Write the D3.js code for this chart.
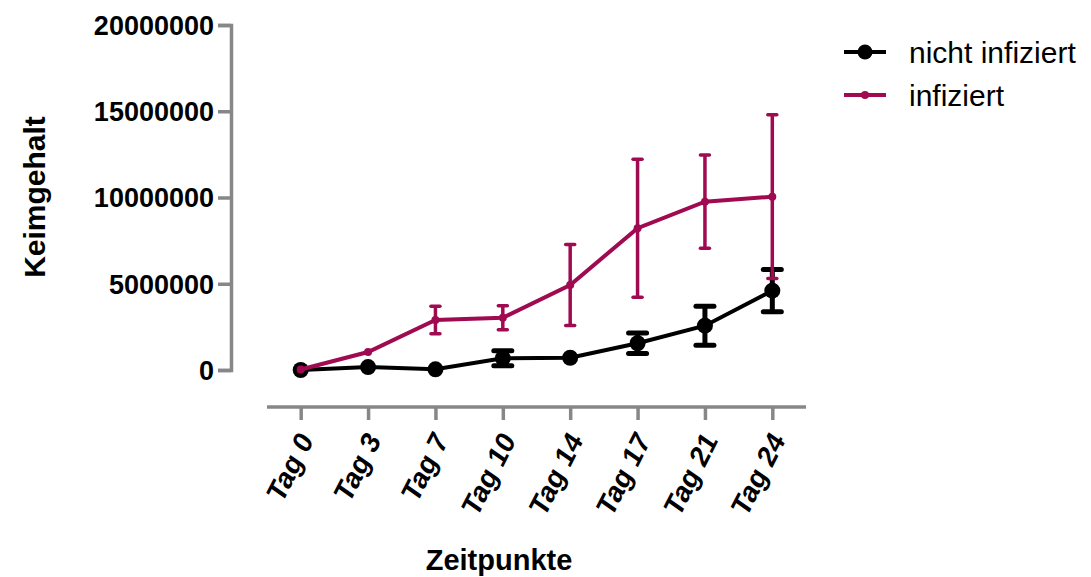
<!DOCTYPE html>
<html><head><meta charset="utf-8">
<script src="https://cdn.jsdelivr.net/npm/d3@7"></script>
<style>
body{margin:0;background:#fff;}
svg text{font-family:"Liberation Sans",Arial,sans-serif;}
</style></head>
<body><svg id="c" width="1091" height="577"></svg>
<script>
const categories = ["Tag 0","Tag 3","Tag 7","Tag 10","Tag 14","Tag 17","Tag 21","Tag 24"];
const nichtMean = [0, 170000, 40000, 680000, 710000, 1550000, 2570000, 4600000];
const nichtErr  = [0, 0, 0, 430000, 0, 600000, 1130000, 1230000];
const infMean   = [30000, 1040000, 2900000, 3030000, 4930000, 8220000, 9760000, 10050000];
const infErr    = [0, 0, 800000, 700000, 2350000, 4000000, 2700000, 4750000];
const yTicks = [0, 5000000, 10000000, 15000000, 20000000];
const seriesNames = ["nicht infiziert", "infiziert"];

const svg = d3.select("#c");
const axisColor = "#878787";
const red = "#A00A50";

const x = d3.scalePoint().domain(categories).range([267, 806]).padding(0.5);
const y = d3.scaleLinear().domain([0, 20000000]).range([370, 25]);

// Y axis
const yAx = svg.append("g").attr("transform","translate(231,0)")
  .call(d3.axisLeft(y).tickValues(yTicks).tickFormat(d3.format("d")).tickSizeOuter(0).tickSize(13).tickPadding(4));
yAx.select(".domain").attr("stroke",axisColor).attr("stroke-width",3.5);
yAx.selectAll(".tick line").attr("stroke",axisColor).attr("stroke-width",3.5);
yAx.selectAll(".tick text").attr("font-size",27).attr("font-weight","bold").attr("fill","#000").attr("dy","0.35em");

// X axis
const xAx = svg.append("g").attr("transform","translate(0,407)")
  .call(d3.axisBottom(x).tickSizeOuter(0).tickSize(13));
xAx.select(".domain").attr("stroke",axisColor).attr("stroke-width",3.5).attr("d","M267,0H806");
xAx.selectAll(".tick line").attr("stroke",axisColor).attr("stroke-width",3.5);
xAx.selectAll(".tick text").attr("font-size",28).attr("font-weight","bold").attr("fill","#000")
  .attr("text-anchor","end").attr("dy",0).attr("y",0)
  .attr("transform","translate(13,34) rotate(-63) skewX(-8)");

// titles
svg.append("text").attr("x",499).attr("y",570).attr("text-anchor","middle")
  .attr("font-size",29).attr("font-weight","bold").text("Zeitpunkte");
svg.append("text").attr("transform","translate(45,197) rotate(-90)").attr("text-anchor","middle")
  .attr("font-size",30).attr("font-weight","bold").text("Keimgehalt");

function drawSeries(means, errs, color, lw, r, ebw, capw) {
  const g = svg.append("g");
  const pts = categories.map((c,i)=>({c, m:means[i], e:errs[i]}));
  const line = d3.line().x(d=>x(d.c)).y(d=>y(d.m));
  g.append("path").datum(pts).attr("d",line).attr("fill","none").attr("stroke",color).attr("stroke-width",lw);
  const eb = g.selectAll(".eb").data(pts.filter(d=>d.e>0)).join("g");
  eb.append("line").attr("x1",d=>x(d.c)).attr("x2",d=>x(d.c)).attr("y1",d=>y(d.m+d.e)).attr("y2",d=>y(d.m-d.e))
    .attr("stroke",color).attr("stroke-width",ebw);
  eb.append("line").attr("x1",d=>x(d.c)-capw/2).attr("x2",d=>x(d.c)+capw/2).attr("y1",d=>y(d.m+d.e)).attr("y2",d=>y(d.m+d.e))
    .attr("stroke",color).attr("stroke-width",ebw).attr("stroke-linecap","round");
  eb.append("line").attr("x1",d=>x(d.c)-capw/2).attr("x2",d=>x(d.c)+capw/2).attr("y1",d=>y(d.m-d.e)).attr("y2",d=>y(d.m-d.e))
    .attr("stroke",color).attr("stroke-width",ebw).attr("stroke-linecap","round");
  g.selectAll("circle").data(pts).join("circle").attr("cx",d=>x(d.c)).attr("cy",d=>y(d.m)).attr("r",r).attr("fill",color);
}
drawSeries(nichtMean, nichtErr, "#000", 4, 8, 5, 18);
drawSeries(infMean, infErr, red, 4, 4, 3.5, 9);

// legend
const leg = [{n:seriesNames[0], c:"#000", r:7.5, y:52},{n:seriesNames[1], c:red, r:4, y:95}];
const lg = svg.append("g");
leg.forEach(l=>{
  lg.append("line").attr("x1",844).attr("x2",886).attr("y1",l.y).attr("y2",l.y).attr("stroke",l.c).attr("stroke-width",4);
  lg.append("circle").attr("cx",865).attr("cy",l.y).attr("r",l.r).attr("fill",l.c);
  lg.append("text").attr("x",909).attr("y",l.y+11).attr("font-size",30).attr("fill","#000").text(l.n);
});
</script></body></html>
